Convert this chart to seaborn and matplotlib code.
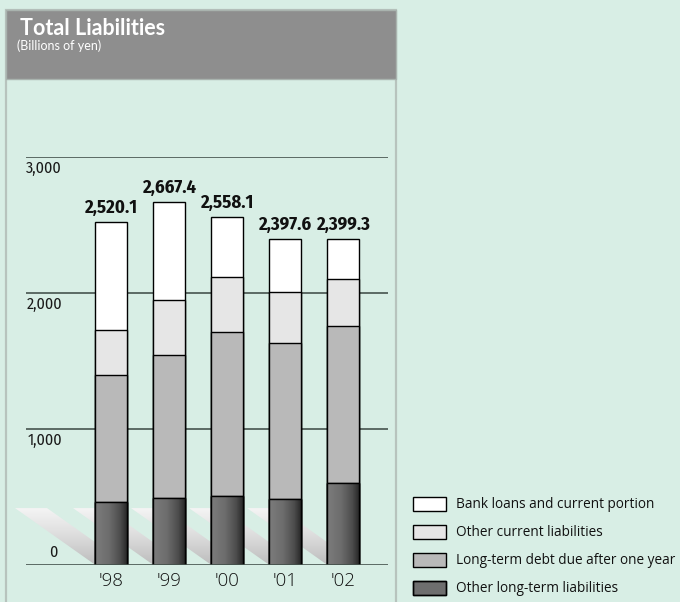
import numpy as np
import pandas as pd
import matplotlib
matplotlib.use("Agg")
import matplotlib.pyplot as plt
import seaborn as sns
from matplotlib.patches import Rectangle, Polygon
from matplotlib.colors import LinearSegmentedColormap
from matplotlib.transforms import offset_copy

# ---- data (billions of yen) ----
years = ["'98", "'99", "'00", "'01", "'02"]
other_long_term = [464, 489, 508, 482, 604]
long_term_debt = [931, 1055, 1206, 1153, 1152]
other_current = [335, 407, 405, 373, 346]
bank_loans = [790.1, 716.4, 439.1, 389.6, 297.3]
total_labels = ["2,520.1", "2,667.4", "2,558.1", "2,397.6", "2,399.3"]
series_names = ["Bank loans and current portion", "Other current liabilities",
                "Long-term debt due after one year", "Other long-term liabilities"]
y_ticks = [0, 1000, 2000, 3000]
y_tick_labels = ["0", "1,000", "2,000", "3,000"]

df = pd.DataFrame({"year": years,
                   "olt": other_long_term, "ltd": long_term_debt,
                   "oc": other_current, "bank": bank_loans})
df["c1"] = df["olt"]
df["c2"] = df["c1"] + df["ltd"]
df["c3"] = df["c2"] + df["oc"]
df["c4"] = df["c3"] + df["bank"]

BG = "#d8eee5"
HEADER = "#8e8e8e"
GRID = "#46544e"
FILLS = ["#ffffff", "#e6e6e6", "#b9b9b9", "#6e6e6e"]
NARROW = ["Fira Sans Condensed", "PT Sans Narrow", "Barlow Condensed",
          "Liberation Sans Narrow", "DejaVu Sans"]

sns.set_theme(style="white")
plt.rcParams["font.family"] = ["Open Sans", "DejaVu Sans"]

W, H = 680, 602
fig = plt.figure(figsize=(W / 100, H / 100), dpi=100, facecolor=BG)


def fx(px):
    return px / W


def fy(py):
    return 1 - py / H


# plot area in pixels
x_left_px, x_right_px = 10, 396
y_top_px, y_zero_px = 157.3, 564.7
ax = fig.add_axes([fx(x_left_px), fy(y_zero_px),
                   fx(x_right_px) - fx(x_left_px), fy(y_top_px) - fy(y_zero_px)])
ax.set_facecolor("none")
for s in ax.spines.values():
    s.set_visible(False)

step_px = 58.0
c0_px = 111.0
xmin = (x_left_px - c0_px) / step_px
xmax = (x_right_px - c0_px) / step_px
bar_w = 32 / step_px

# stacked bars: draw cumulative heights from the top segment down
layers = [("c4", FILLS[0]), ("c3", FILLS[1]), ("c2", FILLS[2]), ("c1", FILLS[3])]
for col, colr in layers:
    sns.barplot(data=df, x="year", y=col, color=colr, saturation=1, width=bar_w,
                edgecolor="black", linewidth=1.0, errorbar=None, ax=ax, zorder=3)

ax.set_xlim(xmin, xmax)
ax.set_ylim(0, 3000)
ax.set_xlabel("")
ax.set_ylabel("")

# gradient shading on the darkest segment
dark_cmap = LinearSegmentedColormap.from_list(
    "dk", [(0, "#7c7c7c"), (0.45, "#6c6c6c"), (0.8, "#4c4c4c"), (1, "#2a2a2a")])
grad_h = np.linspace(0, 1, 64).reshape(1, -1)
for p in ax.containers[-1]:
    x0, y0 = p.get_x(), p.get_y()
    w, h = p.get_width(), p.get_height()
    im = ax.imshow(grad_h, cmap=dark_cmap, aspect="auto", extent=(x0, x0 + w, y0, y0 + h),
                   zorder=3.5, interpolation="bilinear")
    im.set_clip_path(p)
    ax.add_patch(Rectangle((x0, y0), w, h, fill=False, edgecolor="black",
                           linewidth=1.0, zorder=3.6))

# floor shadows trailing to the lower left of each bar
shadow_cmap = LinearSegmentedColormap.from_list("sh", ["#bdbdbd", "#dcdcdc", "#f4f4f4"])
grad_v = np.linspace(0, 1, 64).reshape(-1, 1)
sh_dx = 80 / step_px
sh_h = 417
for p in ax.containers[0]:
    x0, w = p.get_x(), p.get_width()
    poly = Polygon([(x0 - sh_dx, sh_h), (x0 + w - sh_dx, sh_h), (x0 + w, 0), (x0, 0)],
                   closed=True, facecolor="none", edgecolor="none", zorder=1)
    ax.add_patch(poly)
    im = ax.imshow(grad_v[::-1], cmap=shadow_cmap, aspect="auto",
                   extent=(x0 - sh_dx, x0 + w, 0, sh_h), origin="upper",
                   zorder=1.2, interpolation="bilinear")
    im.set_clip_path(poly)

ax.set_xlim(xmin, xmax)
ax.set_ylim(0, 3000)

# grid lines
g0 = (26 - c0_px) / step_px
g1 = (388 - c0_px) / step_px
for v in y_ticks:
    ax.hlines(v, g0, g1, color=GRID, linewidth=1.2, zorder=2 if v else 4)

# y labels
ylab_x = (62 - c0_px) / step_px
for v, t in zip(y_ticks, y_tick_labels):
    if v == 0:
        tr = offset_copy(ax.transData, fig=fig, x=-3, y=3, units="points")
        ax.text(ylab_x, v, t, ha="right", va="bottom", fontsize=11.5,
                family=NARROW, color="#1a1a1a", transform=tr)
    else:
        tr = offset_copy(ax.transData, fig=fig, x=0, y=-2.5, units="points")
        ax.text(ylab_x, v, t, ha="right", va="top", fontsize=11.5,
                family=NARROW, color="#1a1a1a", transform=tr)

# x labels
ax.set_xticks(range(len(years)))
ax.set_xticklabels(years, fontsize=13.5, color="#111111", fontweight="light")
ax.tick_params(axis="x", length=0, pad=5)
ax.set_yticks([])

# total labels above bars
for i, (tot, lab) in enumerate(zip(df["c4"], total_labels)):
    ax.annotate(lab, (i, tot), xytext=(0, 4), textcoords="offset points",
                ha="center", va="bottom", fontsize=13.4, fontweight="bold",
                family=NARROW, color="#111111", zorder=5)

# panel frame and header
fig.add_artist(Rectangle((fx(6), fy(620)), fx(396) - fx(6), fy(10) - fy(620),
                         transform=fig.transFigure, facecolor="none",
                         edgecolor="#b7c3bd", linewidth=1.6, zorder=0))
fig.add_artist(Rectangle((fx(6), fy(79)), fx(396) - fx(6), fy(10) - fy(79),
                         transform=fig.transFigure, facecolor=HEADER,
                         edgecolor="#a9b3ae", linewidth=1.0, zorder=1))
fig.text(fx(20), fy(35), "Total Liabilities", color="white", fontsize=15.5,
         fontweight="bold", va="baseline", ha="left", family=["Lato", "DejaVu Sans"])
fig.text(fx(17), fy(50), "(Billions of yen)", color="white", fontsize=9,
         va="baseline", ha="left", family=["Lato", "DejaVu Sans"])

# legend
leg_rows = [504, 532, 560, 588]
for name, colr, yc in zip(series_names, FILLS, leg_rows):
    x0, w, h = 413, 33, 14
    box = (fx(x0), fy(yc + h / 2), fx(x0 + w) - fx(x0), fy(yc - h / 2) - fy(yc + h / 2))
    fig.add_artist(Rectangle(box[:2], box[2], box[3], transform=fig.transFigure,
                             facecolor=colr, edgecolor="black", linewidth=1.0, zorder=3))
    if colr == FILLS[3]:
        im_ax = fig.add_axes(list(box))
        im_ax.imshow(grad_h, cmap=dark_cmap, aspect="auto", interpolation="bilinear")
        im_ax.set_axis_off()
        fig.add_artist(Rectangle(box[:2], box[2], box[3], transform=fig.transFigure,
                                 facecolor="none", edgecolor="black", linewidth=1.0, zorder=5))
    fig.text(fx(456), fy(yc), name, fontsize=9.85, color="#111111", va="center", ha="left")

fig.savefig("out.png", dpi=100, facecolor=BG)
